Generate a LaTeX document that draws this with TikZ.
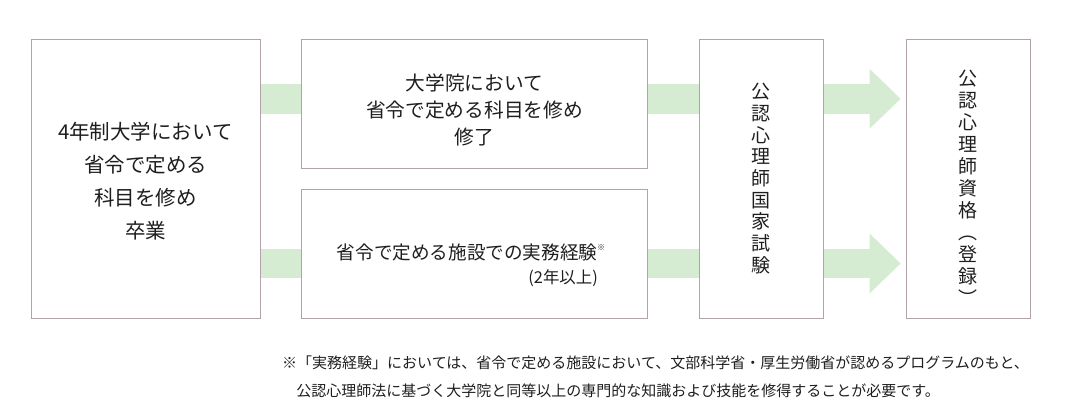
\documentclass[tikz,border=0pt]{standalone}
\usepackage{fontspec}
\setmainfont{Noto Sans CJK JP}
\usetikzlibrary{arrows.meta,
                backgrounds
            }
\definecolor{boxline}{RGB}{178,163,170}
\definecolor{bandgreen}{RGB}{214,236,210}
\definecolor{ink}{RGB}{30,30,30}
\tikzset{
    box/.style={draw=boxline, line width=0.9pt, inner sep=0pt},
    band/.style={draw=bandgreen, line width=29.5pt},
    bandarrow/.style={band, -{Triangle[length=31pt, width=60pt, line width=0pt]}, shorten >=5pt},
    txt/.style={text=ink, align=center, inner sep=0pt},
    tate/.style={txt, font=\fontsize{19}{21.7}\selectfont}
}

\begin{document}
\begin{tikzpicture}[x=1pt, y=-1pt]
            \useasboundingbox (0, 0) rectangle (1086, 417);
            \node[box, minimum width=229pt, minimum height=279pt] (univ) at (145.5, 178.8) {};
            \node[box, minimum width=346pt, minimum height=129pt] (grad) at (474.5, 103.8) {};
            \node[box, minimum width=346pt, minimum height=129pt] (work) at (474.5, 253.8) {};
            \node[box, minimum width=124pt, minimum height=279pt] (exam) at (761, 178.8) {};
            \node[box, minimum width=124pt, minimum height=279pt] (qual) at (968, 178.8) {};
            \coordinate (upper) at (0, 98.8);
            \coordinate (lower) at (0, 263.5);
            \begin{scope}[on background layer]
                \draw[band] (univ.east |- upper) -- (grad.west |- upper);
                \draw[band] (univ.east |- lower) -- (work.west |- lower);
                \draw[band] (grad.east |- upper) -- (exam.west |- upper);
                \draw[band] (work.east |- lower) -- (exam.west |- lower);
                \draw[bandarrow] (exam.east |- upper) -- (qual.west |- upper);
                \draw[bandarrow] (exam.east |- lower) -- (qual.west |- lower);
            \end{scope}
            \node[txt, font=\fontsize{20.5}{33}\selectfont] (univtext) at (145.5, 181.5) {4年制大学において\\省令で定める\\科目を修め\\卒業};
            \node[txt, font=\fontsize{19.7}{27}\selectfont] (gradtext) at (474.5, 110) {大学院において\\省令で定める科目を修め\\修了};
            \node[txt, font=\fontsize{18.6}{27}\selectfont] (worktext) at (471, 252) {省令で定める施設での実務経験\raisebox{0.45em}{\fontsize{8}{8}\selectfont ※}};
            \node[txt, font=\fontsize{16.4}{20}\selectfont, anchor=east] (workyears) at (598, 278) {(2年以上)};
            \node[tate] (examtext) at (761, 178.5) {公\\認\\心\\理\\師\\国\\家\\試\\験};
            \node[tate, font=\fontsize{19}{22}\selectfont] (qualtext) at (968, 188) {公\\認\\心\\理\\師\\資\\格\\︵\\登\\録\\︶};
            \node[txt, align=left, font=\fontsize{15}{28}\selectfont, anchor=west] (note) at (282, 377) {※「実務経験」においては、省令で定める施設において、文部科学省・厚生労働省が認めるプログラムのもと、\\\hspace*{0.95em}公認心理師法に基づく大学院と同等以上の専門的な知識および技能を修得することが必要です。};
        \end{tikzpicture}
\end{document}
